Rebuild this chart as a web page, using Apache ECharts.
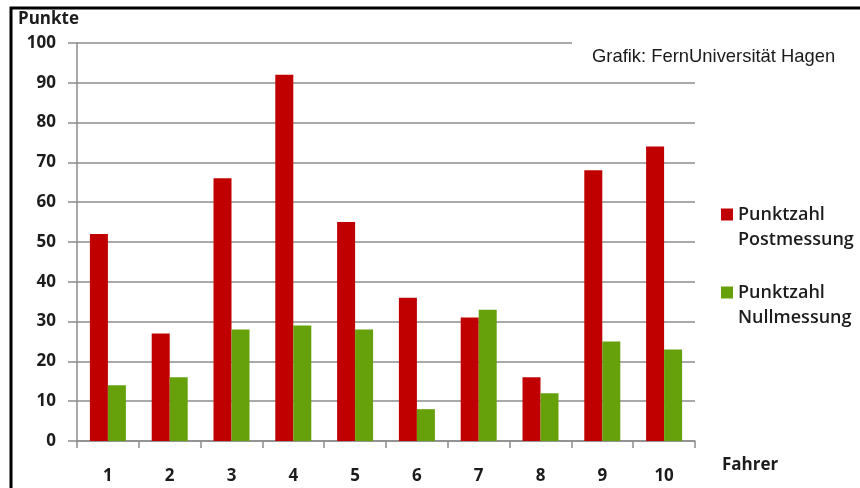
<!DOCTYPE html>
<html>
<head>
<meta charset="utf-8">
<script src="https://cdn.jsdelivr.net/npm/echarts@6/dist/echarts.min.js"></script>
<style>
  html, body { margin: 0; padding: 0; background: #fff; }
  #chart { width: 860px; height: 488px; }
</style>
</head>
<body>
<div id="chart"></div>
<script>
// Fahrer (drivers) along the x axis
const fahrer = ['1', '2', '3', '4', '5', '6', '7', '8', '9', '10'];
// Points after training and baseline points
const postmessung = [52, 27, 66, 92, 55, 36, 31, 16, 68, 74];
const nullmessung = [14, 16, 28, 29, 28, 8, 33, 12, 25, 23];
const serienNamen = ['Punktzahl\nPostmessung', 'Punktzahl\nNullmessung'];
const yTicks = { min: 0, max: 100, interval: 10 };

const font = '"Open Sans", "DejaVu Sans", sans-serif';
const gridColor = '#8c8c8c';
const textColor = '#1c1c1c';

const chart = echarts.init(document.getElementById('chart'), null, { renderer: 'canvas' });

chart.setOption({
  backgroundColor: '#ffffff',
  animation: false,
  grid: { left: 77, right: 165, top: 43, bottom: 47, containLabel: false, outerBoundsMode: 'none' },
  legend: {
    orient: 'vertical',
    left: 721,
    top: 177,
    padding: 0,
    itemWidth: 12,
    itemHeight: 12,
    itemGap: 3,
    icon: 'rect',
    selectedMode: false,
    data: serienNamen,
    // a leading empty line keeps the square level with the first line
    formatter: name => '\n' + name,
    textStyle: {
      fontFamily: font,
      fontWeight: 600,
      fontSize: 18,
      color: textColor,
      lineHeight: 25
    }
  },
  xAxis: {
    type: 'category',
    data: fahrer,
    boundaryGap: true,
    name: 'Fahrer',
    nameLocation: 'end',
    nameGap: 27,
    nameTextStyle: {
      fontFamily: font,
      fontWeight: 700,
      fontSize: 17,
      color: textColor,
      verticalAlign: 'top',
      lineHeight: 48
    },
    axisLine: { show: true, lineStyle: { color: gridColor, width: 1.5 } },
    axisTick: { show: true, length: 7, lineStyle: { color: gridColor, width: 1.5 } },
    axisLabel: {
      margin: 27,
      fontFamily: font,
      fontWeight: 700,
      fontSize: 17,
      color: textColor
    },
    splitLine: { show: false }
  },
  yAxis: {
    type: 'value',
    min: yTicks.min,
    max: yTicks.max,
    interval: yTicks.interval,
    name: 'Punkte',
    nameLocation: 'end',
    nameGap: 15,
    nameTextStyle: {
      fontFamily: font,
      fontWeight: 700,
      fontSize: 17,
      color: textColor,
      align: 'center',
      padding: [0, 57, 0, 0]
    },
    axisLine: { show: true, lineStyle: { color: gridColor, width: 1.5 } },
    axisTick: { show: true, length: 9, lineStyle: { color: gridColor, width: 1.5 } },
    axisLabel: {
      margin: 21,
      fontFamily: font,
      fontWeight: 700,
      fontSize: 17,
      color: textColor
    },
    splitLine: { show: true, lineStyle: { color: gridColor, width: 1.5 } }
  },
  series: [
    {
      name: serienNamen[0],
      type: 'bar',
      data: postmessung,
      barWidth: 18,
      barGap: '0%',
      itemStyle: { color: '#C00000' }
    },
    {
      name: serienNamen[1],
      type: 'bar',
      data: nullmessung,
      barWidth: 18,
      barGap: '0%',
      itemStyle: { color: '#66A10B' }
    }
  ],
  graphic: [
    {
      // outer frame along the top and left edges
      type: 'rect',
      shape: { x: 11, y: 8, width: 900, height: 520 },
      style: { fill: null, stroke: '#000000', lineWidth: 3 },
      z: 100
    },
    {
      // source credit on a white box
      type: 'text',
      left: 572,
      top: 36,
      style: {
        text: 'Grafik: FernUniversität Hagen',
        fontFamily: '"Liberation Sans", Arial, sans-serif',
        fontSize: 18.4,
        fill: '#1a1a1a',
        backgroundColor: '#ffffff',
        padding: [12, 10, 6, 20]
      },
      z: 50
    }
  ]
});
</script>
</body>
</html>
